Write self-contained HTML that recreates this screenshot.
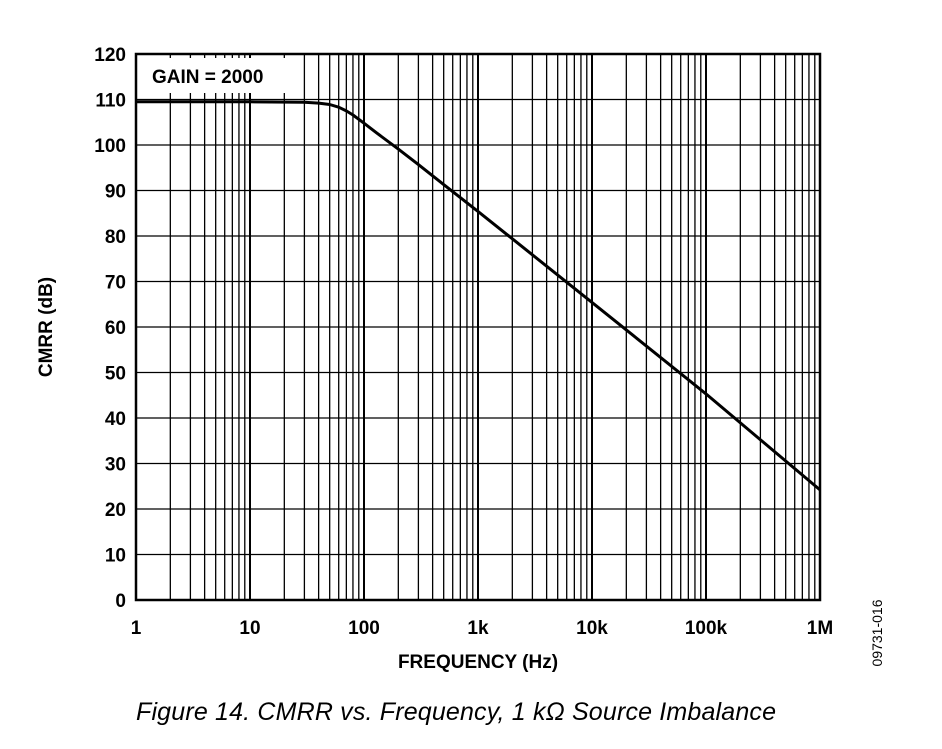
<!DOCTYPE html>
<html><head><meta charset="utf-8"><style>
body{margin:0;background:#fff;width:942px;height:744px;overflow:hidden;font-family:"Liberation Sans",sans-serif}
</style></head><body>
<svg id="chart" width="942" height="744" xmlns="http://www.w3.org/2000/svg"></svg>
<script>
const freqs=[1,10,30,40,50,60,70,80,100,130,200,300,500,1000,10000,100000,1000000];
const cmrr=[109.5,109.5,109.4,109.2,108.9,108.3,107.5,106.6,104.8,102.6,99.1,95.7,91.3,85.4,65.4,45.3,24.2];
const yTicks=[0,10,20,30,40,50,60,70,80,90,100,110,120];
const xTickVals=[1,10,100,1000,10000,100000,1000000];
const xTickLabels=["1","10","100","1k","10k","100k","1M"];
const L=136,R=820,T=54,B=600;
const NS="http://www.w3.org/2000/svg";
const svg=document.getElementById('chart');
const xs=f=>L+(Math.log10(f)/6)*(R-L);
const ys=v=>B-(v/120)*(B-T);
function mk(tag,attrs,parent){const e=document.createElementNS(NS,tag);for(const k in attrs)e.setAttribute(k,attrs[k]);(parent||svg).appendChild(e);return e;}
const grid=mk('g',{});


for(let d=0;d<6;d++)for(let m=1;m<=10;m++){const f=Math.pow(10,d)*m;const x=xs(f);
 const l=mk('line',{x1:x,x2:x,y1:T,y2:B,stroke:'#000','stroke-width':m==1||m==10?2:1.3},grid);
 
 }
yTicks.forEach(v=>{const y=ys(v);
 const l=mk('line',{x1:L,x2:R,y1:y,y2:y,stroke:'#000','stroke-width':1.3},grid);
 
 
 const t=mk('text',{x:L-10,y:y+7,'text-anchor':'end','font-size':19,'font-weight':'bold'});
 t.textContent=v;
 
 });
xTickVals.forEach((f,i)=>{const t=mk('text',{x:xs(f),y:634,'text-anchor':'middle','font-size':19,'font-weight':'bold'});
 t.textContent=xTickLabels[i];
 
 });
const frame=mk('rect',{x:L,y:T,width:R-L,height:B-T,fill:'none',stroke:'#000','stroke-width':2.5});


const box=mk('rect',{x:141,y:58,width:145,height:35,fill:'#fff'});


const gl=mk('text',{x:152,y:83,'font-size':19,'font-weight':'bold'});
gl.textContent='GAIN = 2000';


let d='';freqs.forEach((f,i)=>{d+=(i?'L':'M')+xs(f).toFixed(1)+','+ys(cmrr[i]).toFixed(1);});
const p=mk('path',{d:d,fill:'none',stroke:'#000','stroke-width':3,'stroke-linejoin':'round'});


const yt=mk('text',{x:0,y:0,'font-size':19,'font-weight':'bold','text-anchor':'middle',transform:'translate(52,327) rotate(-90)'});
yt.textContent='CMRR (dB)';


const xt=mk('text',{x:478,y:668,'font-size':19,'font-weight':'bold','text-anchor':'middle'});
xt.textContent='FREQUENCY (Hz)';


const id=mk('text',{x:0,y:0,'font-size':14,'text-anchor':'middle',transform:'translate(882,633) rotate(-90)'});
id.textContent='09731-016';


const cap=mk('text',{x:456,y:720,'font-size':25,'font-style':'italic','text-anchor':'middle','textLength':640});
cap.textContent='Figure 14. CMRR vs. Frequency, 1 kΩ Source Imbalance';


</script>
</body></html>
